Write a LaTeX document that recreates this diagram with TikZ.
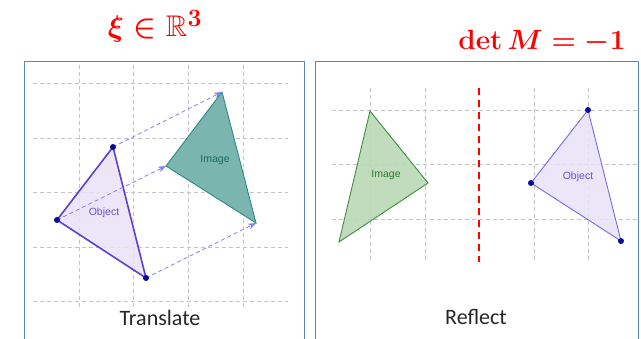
\documentclass[tikz,border=0pt]{standalone}
\usepackage{amsmath,amssymb}
\usepackage[no-math]{fontspec}
\newfontfamily\capfont{Carlito}
\newfontfamily\labfont{Liberation Sans}
\usetikzlibrary{arrows.meta}
\definecolor{frameblue}{HTML}{5B86B5}
\definecolor{gridgray}{HTML}{C4C4C4}
\definecolor{objfill}{HTML}{E8E3F8}
\definecolor{objline}{HTML}{5F3FD3}
\definecolor{objline2}{HTML}{7A68E2}
\definecolor{objtext}{HTML}{6A4FD6}
\definecolor{ptblue}{HTML}{0A0A9E}
\definecolor{tealfill}{HTML}{7AB6AF}
\definecolor{tealline}{HTML}{2E8A80}
\definecolor{tealtext}{HTML}{1E6A64}
\definecolor{greenfill}{HTML}{BBD9B6}
\definecolor{greenline}{HTML}{3E8E3E}
\definecolor{greentext}{HTML}{2E7D2E}
\definecolor{arrowblue}{HTML}{8080FF}
\tikzset{
  frame/.style={draw=frameblue, line width=0.8pt},
  gridline/.style={draw=gridgray, line width=0.6pt, dash pattern=on 4pt off 3pt},
  dot/.style={circle, fill=ptblue, inner sep=0pt, minimum size=6pt},
  trarrow/.style={draw=arrowblue, line width=0.8pt, dash pattern=on 4pt off 3pt, -{Stealth[length=8pt,width=6pt]}},
  lab/.style={font=\labfont\fontsize{10.5}{12}\selectfont},
  caption/.style={font=\capfont\fontsize{22}{26}\selectfont, text=black!85},
  title/.style={text=red, font=\boldmath\fontsize{24.88}{30}\selectfont},
}
\begin{document}
\begin{tikzpicture}[x=1pt,y=-1pt]
\useasboundingbox (0,0) rectangle (641,339);
\fill[white] (0,0) rectangle (641,339);
% titles
\node[title, anchor=base, scale=1.2] (t1) at (155,37) {$\xi\in\mathbb{R}^{3}$};
\node[title, anchor=base, scale=1.12] (t2) at (542,50) {$\det M=-1$};
% frames
\draw[frame] (24,339) -- (24,61) -- (304,61) -- (304,339);
\draw[frame] (315,339) -- (315,61) -- (638,61) -- (638,339);
% left grid
\foreach \y in {83,138,192,247,301} \draw[gridline] (33,\y) -- (288,\y);
\foreach \x in {79,133,188,243} \draw[gridline] (\x,65) -- (\x,310);
% right grid
\foreach \y in {110,164,219} \draw[gridline] (332,\y) -- (638,\y);
\foreach \x in {370,425,534,588} \draw[gridline] (\x,88) -- (\x,262);
\draw[red, line width=2pt, dash pattern=on 7pt off 5pt] (479,88) -- (479,262);
% translate: image
\coordinate (iA) at (166,166);
\coordinate (iB) at (222,92);
\coordinate (iC) at (256,223);
\filldraw[fill=tealfill, draw=tealline, line width=0.9pt] (iA) -- (iB) -- (iC) -- cycle;
\node[lab, text=tealtext] (iLab) at (215,160) {Image};
% translate: object
\coordinate (oA) at (57,220);
\coordinate (oB) at (113,147);
\coordinate (oC) at (146,278);
\filldraw[fill=objfill, fill opacity=0.85, draw=objline, line width=1.6pt] (oA) -- (oB) -- (oC) -- cycle;
\node[lab, text=objtext] (oLab) at (104,213) {Object};
\draw[trarrow] (oA) -- (iA);
\draw[trarrow] (oB) -- (iB);
\draw[trarrow] (oC) -- (iC);
\node[dot] (dA) at (oA) {};
\node[dot] (dB) at (oB) {};
\node[dot] (dC) at (oC) {};
\node[caption] (cap1) at (160,318) {Translate};
% reflect: image
\coordinate (rA) at (370,111);
\coordinate (rB) at (428,183);
\coordinate (rC) at (339,242);
\filldraw[fill=greenfill, fill opacity=0.9, draw=greenline, line width=0.9pt] (rA) -- (rB) -- (rC) -- cycle;
\node[lab, text=greentext] (rLab) at (386,175) {Image};
% reflect: object
\coordinate (sA) at (588,110);
\coordinate (sB) at (531,183);
\coordinate (sC) at (621,241);
\filldraw[fill=objfill, fill opacity=0.85, draw=objline2, line width=0.9pt] (sA) -- (sB) -- (sC) -- cycle;
\node[lab, text=objtext] (sLab) at (578,177) {Object};
\node[dot] (eA) at (sA) {};
\node[dot] (eB) at (sB) {};
\node[dot] (eC) at (sC) {};
\node[caption] (cap2) at (476,317) {Reflect};
\end{tikzpicture}
\end{document}
